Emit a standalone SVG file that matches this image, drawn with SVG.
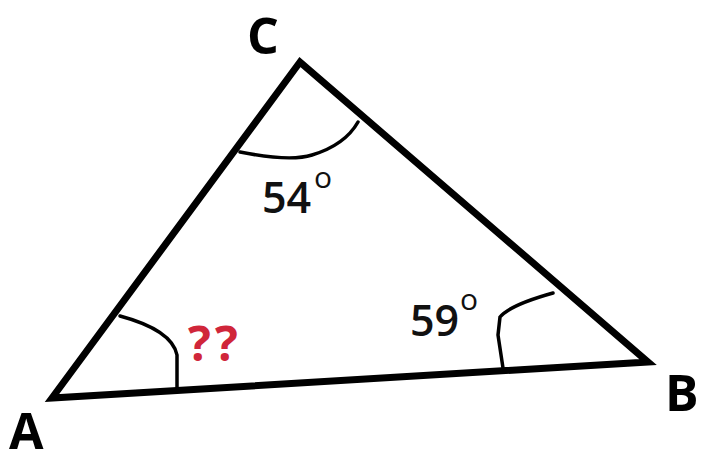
<svg xmlns="http://www.w3.org/2000/svg" width="704" height="466" viewBox="0 0 704 466">
<style>
.edge{fill:none;stroke:#000;stroke-width:7;stroke-linejoin:miter;stroke-linecap:round}
.arc{fill:none;stroke:#000;stroke-width:3.5;stroke-linecap:round}
.lbl{font-family:"Open Sans","Liberation Sans",sans-serif;font-weight:700;font-size:50px;fill:#000}
.ang{font-family:"Open Sans","Liberation Sans",sans-serif;font-weight:600;font-size:43px;fill:#111}
.deg{font-family:"Open Sans","Liberation Sans",sans-serif;font-weight:400;font-size:30px;fill:#111}
.q{font-family:"Open Sans","Liberation Sans",sans-serif;font-weight:700;font-size:48px;fill:#d0263a;letter-spacing:4px}
</style>
<rect width="704" height="466" fill="#fff"/>
<g id="connectors">
<polygon class="edge" points="52,398 300,62 648,362"/>
</g>
<g id="arcs">
<path class="arc" d="M120,316 Q172,330 177,355 L177,388"/>
<path class="arc" d="M240,152 Q290,162 312,155 Q345,145 358,122"/>
<path class="arc" d="M553,293 Q510,305 500,317 L498,335 L503,368"/>
</g>
<g id="A"><text class="lbl" x="9" y="449" font-size="47">A</text></g>
<g id="B"><text class="lbl" x="665" y="411">B</text></g>
<g id="C"><text class="lbl" x="247" y="54">C</text></g>
<g id="angleC"><text class="ang" x="262" y="213">54</text><text class="deg" x="314" y="188">o</text></g>
<g id="angleB"><text class="ang" x="410" y="336">59</text><text class="deg" x="460" y="310">o</text></g>
<g id="angleA"><text class="q" x="188" y="361">??</text></g>
</svg>
